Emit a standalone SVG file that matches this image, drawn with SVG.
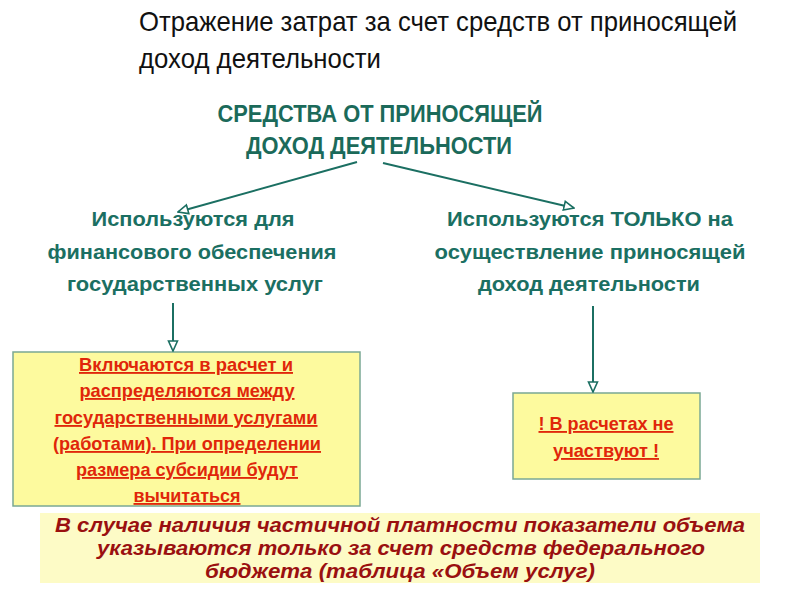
<svg xmlns="http://www.w3.org/2000/svg" width="800" height="600" viewBox="0 0 800 600">
<defs>
<marker id="tri" viewBox="0 0 12 12" refX="11" refY="6" markerWidth="12" markerHeight="12" markerUnits="userSpaceOnUse" orient="auto">
<path d="M1,1.5 L11,6 L1,10.5 Z" fill="#ffffff" stroke="#1b6f62" stroke-width="1.6"/>
</marker>
</defs>
<style>
.title{font-family:"Liberation Sans",Arial,sans-serif;font-size:28px;fill:#111111}
.head{font-family:"Liberation Sans",Arial,sans-serif;font-size:24px;font-weight:bold;fill:#1b6a5a;text-anchor:middle}
.sub{font-family:"Liberation Sans",Arial,sans-serif;font-size:21px;font-weight:bold;fill:#1b6f62;text-anchor:middle}
.red{font-family:"Liberation Sans",Arial,sans-serif;font-size:18.5px;font-weight:bold;fill:#e0260a;text-anchor:middle;text-decoration:underline}
.note{font-family:"Liberation Sans",Arial,sans-serif;font-size:21px;font-weight:bold;font-style:italic;fill:#9a1010;text-anchor:middle}
.conn{stroke:#1b6f62;stroke-width:2;fill:none}
.box{fill:#fdfa9e;stroke:#7aa894;stroke-width:1.5}
</style>
<rect width="800" height="600" fill="#ffffff"/>
<g id="title">
<text class="title" x="139" y="31" textLength="598" lengthAdjust="spacingAndGlyphs">Отражение затрат за счет средств от приносящей</text>
<text class="title" x="139" y="68" textLength="242" lengthAdjust="spacingAndGlyphs">доход деятельности</text>
</g>
<g id="node-source">
<text class="head" x="380" y="122" textLength="325" lengthAdjust="spacingAndGlyphs">СРЕДСТВА ОТ ПРИНОСЯЩЕЙ</text>
<text class="head" x="379" y="154" textLength="266" lengthAdjust="spacingAndGlyphs">ДОХОД ДЕЯТЕЛЬНОСТИ</text>
</g>
<g id="node-left">
<text class="sub" x="193" y="226" textLength="203" lengthAdjust="spacingAndGlyphs">Используются для</text>
<text class="sub" x="192" y="259" textLength="289" lengthAdjust="spacingAndGlyphs">финансового обеспечения</text>
<text class="sub" x="195" y="291" textLength="256" lengthAdjust="spacingAndGlyphs">государственных услуг</text>
</g>
<g id="node-right">
<text class="sub" x="590" y="226" textLength="286" lengthAdjust="spacingAndGlyphs">Используются ТОЛЬКО на</text>
<text class="sub" x="590" y="259" textLength="311" lengthAdjust="spacingAndGlyphs">осуществление приносящей</text>
<text class="sub" x="589" y="291" textLength="222" lengthAdjust="spacingAndGlyphs">доход деятельности</text>
</g>
<g id="node-left-box">
<rect class="box" x="13" y="352" width="347" height="154"/>
<text class="red" x="186" y="371" textLength="214" lengthAdjust="spacingAndGlyphs">Включаются в расчет и</text>
<text class="red" x="187" y="397" textLength="215" lengthAdjust="spacingAndGlyphs">распределяются между</text>
<text class="red" x="186" y="424" textLength="263" lengthAdjust="spacingAndGlyphs">государственными услугами</text>
<text class="red" x="187" y="450" textLength="268" lengthAdjust="spacingAndGlyphs">(работами). При определении</text>
<text class="red" x="187" y="476" textLength="222" lengthAdjust="spacingAndGlyphs">размера субсидии будут</text>
<text class="red" x="187" y="502" textLength="107" lengthAdjust="spacingAndGlyphs">вычитаться</text>
</g>
<g id="node-right-box">
<rect class="box" x="513" y="393" width="187" height="86"/>
<text class="red" x="606" y="430" textLength="135" lengthAdjust="spacingAndGlyphs">! В расчетах не</text>
<text class="red" x="606" y="457" textLength="106" lengthAdjust="spacingAndGlyphs">участвуют !</text>
</g>
<g id="node-note">
<rect x="40" y="513" width="720" height="70" fill="#fdfbc6"/>
<text class="note" x="400" y="532" textLength="690" lengthAdjust="spacingAndGlyphs">В случае наличия частичной платности показатели объема</text>
<text class="note" x="401" y="555" textLength="608" lengthAdjust="spacingAndGlyphs">указываются только за счет средств федерального</text>
<text class="note" x="400" y="578" textLength="390" lengthAdjust="spacingAndGlyphs">бюджета (таблица «Объем услуг)</text>
</g>
<g id="connectors">
<line class="conn" x1="357" y1="162" x2="178" y2="212" marker-end="url(#tri)"/>
<line class="conn" x1="383" y1="163" x2="574" y2="208" marker-end="url(#tri)"/>
<line class="conn" x1="173" y1="303" x2="173" y2="351" marker-end="url(#tri)"/>
<line class="conn" x1="593" y1="306" x2="593" y2="392" marker-end="url(#tri)"/>
</g>
</svg>
